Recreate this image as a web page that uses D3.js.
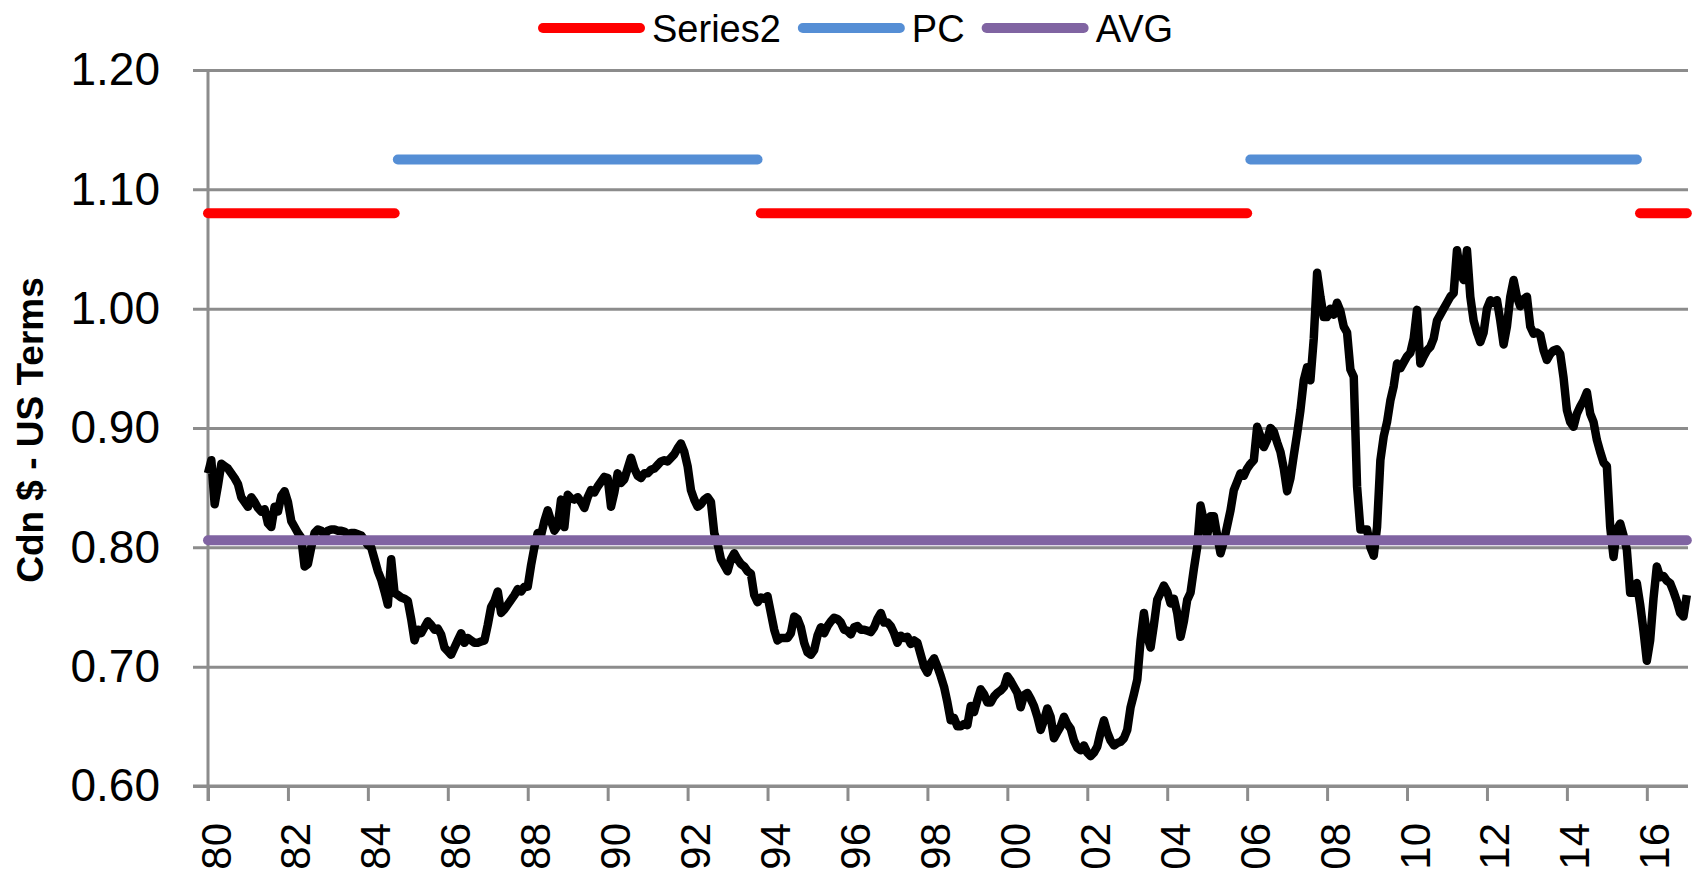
<!DOCTYPE html>
<html>
<head>
<meta charset="utf-8">
<script src="https://cdn.jsdelivr.net/npm/d3@7"></script>
<style>
  body { margin: 0; background: #fff; }
  svg { display: block; font-family: "Liberation Sans", Arial, sans-serif; }
</style>
</head>
<body>
<svg id="chart" width="1693" height="873"></svg>
<script>
// C$ in US$ terms, monthly, Jan 1980 .. Jan 2017
var startYear = 1980;
var cadUsd = [
  0.862, 0.873, 0.836, 0.852, 0.870, 0.868, 0.866, 0.862, 0.858, 0.853, 0.842, 0.838, // 1980
  0.834, 0.842, 0.838, 0.833, 0.830, 0.832, 0.820, 0.817, 0.834, 0.830, 0.843, 0.847,
  0.838, 0.822, 0.817, 0.812, 0.808, 0.784, 0.786, 0.800, 0.812, 0.815, 0.814, 0.810,
  0.814, 0.815, 0.815, 0.814, 0.814, 0.813, 0.811, 0.812, 0.812, 0.811, 0.810, 0.806,
  0.802, 0.800, 0.790, 0.780, 0.773, 0.763, 0.752, 0.790, 0.762, 0.760, 0.758, 0.757,
  0.755, 0.740, 0.722, 0.731, 0.728, 0.733, 0.738, 0.735, 0.731, 0.732, 0.727, 0.716, // 1985
  0.713, 0.710, 0.716, 0.722, 0.728, 0.720, 0.724, 0.722, 0.720, 0.720, 0.721, 0.722,
  0.735, 0.750, 0.755, 0.763, 0.745, 0.748, 0.752, 0.756, 0.760, 0.765, 0.763, 0.767,
  0.767, 0.785, 0.800, 0.812, 0.810, 0.822, 0.831, 0.822, 0.814, 0.818, 0.840, 0.817,
  0.844, 0.841, 0.840, 0.842, 0.838, 0.833, 0.842, 0.848, 0.846, 0.851, 0.855, 0.859,
  0.858, 0.834, 0.846, 0.862, 0.854, 0.857, 0.866, 0.875, 0.866, 0.860, 0.858, 0.862, // 1990
  0.862, 0.865, 0.866, 0.869, 0.872, 0.873, 0.872, 0.875, 0.878, 0.883, 0.887, 0.880,
  0.868, 0.848, 0.840, 0.834, 0.836, 0.840, 0.842, 0.838, 0.812, 0.803, 0.790, 0.785,
  0.780, 0.790, 0.795, 0.790, 0.786, 0.784, 0.780, 0.778, 0.760, 0.754, 0.758, 0.757,
  0.759, 0.745, 0.731, 0.722, 0.724, 0.724, 0.724, 0.728, 0.742, 0.740, 0.733, 0.720,
  0.712, 0.710, 0.714, 0.726, 0.733, 0.728, 0.734, 0.738, 0.741, 0.740, 0.737, 0.731, // 1995
  0.730, 0.727, 0.733, 0.734, 0.731, 0.731, 0.730, 0.729, 0.733, 0.740, 0.745, 0.737,
  0.737, 0.734, 0.728, 0.720, 0.726, 0.724, 0.725, 0.719, 0.722, 0.720, 0.710, 0.700,
  0.695, 0.703, 0.707, 0.700, 0.692, 0.683, 0.670, 0.655, 0.657, 0.650, 0.650, 0.652,
  0.651, 0.667, 0.662, 0.672, 0.681, 0.677, 0.670, 0.670, 0.675, 0.678, 0.680, 0.683,
  0.692, 0.688, 0.683, 0.678, 0.666, 0.676, 0.678, 0.673, 0.667, 0.658, 0.647, 0.655, // 2000
  0.665, 0.658, 0.640, 0.645, 0.650, 0.658, 0.652, 0.648, 0.638, 0.632, 0.630, 0.634,
  0.628, 0.625, 0.628, 0.633, 0.645, 0.655, 0.645, 0.638, 0.634, 0.636, 0.637, 0.640,
  0.647, 0.666, 0.677, 0.689, 0.722, 0.745, 0.725, 0.716, 0.735, 0.756, 0.762, 0.768,
  0.763, 0.753, 0.757, 0.745, 0.725, 0.738, 0.756, 0.762, 0.782, 0.800, 0.835, 0.822,
  0.810, 0.826, 0.826, 0.810, 0.795, 0.805, 0.818, 0.831, 0.848, 0.855, 0.862, 0.860, // 2005
  0.866, 0.870, 0.873, 0.901, 0.893, 0.884, 0.890, 0.900, 0.897, 0.888, 0.880, 0.866,
  0.847, 0.858, 0.877, 0.895, 0.915, 0.940, 0.951, 0.940, 0.975, 1.030, 1.010, 0.993,
  0.993, 1.000, 0.995, 1.005, 0.998, 0.985, 0.980, 0.949, 0.943, 0.851, 0.815, 0.815,
  0.815, 0.800, 0.793, 0.817, 0.873, 0.893, 0.905, 0.923, 0.935, 0.954, 0.950, 0.955,
  0.960, 0.963, 0.975, 0.999, 0.954, 0.960, 0.965, 0.968, 0.975, 0.990, 0.995, 1.000, // 2010
  1.005, 1.010, 1.013, 1.049, 1.030, 1.024, 1.049, 1.010, 0.990, 0.980, 0.972, 0.980,
  1.000, 1.007, 1.005, 1.007, 0.990, 0.970, 0.985, 1.010, 1.024, 1.010, 1.002, 1.008,
  1.010, 0.985, 0.979, 0.980, 0.978, 0.965, 0.957, 0.962, 0.965, 0.966, 0.962, 0.942,
  0.915, 0.905, 0.901, 0.912, 0.918, 0.923, 0.930, 0.912, 0.905, 0.890, 0.880, 0.871,
  0.868, 0.817, 0.792, 0.815, 0.820, 0.810, 0.798, 0.762, 0.762, 0.770, 0.752, 0.730, // 2015
  0.705, 0.722, 0.757, 0.784, 0.775, 0.776, 0.772, 0.770, 0.763, 0.755, 0.745, 0.742,
  0.760
];

// government periods (decimal years) and the levels they are drawn at
var series2Periods = [[1980.0, 1984.67], [1993.83, 2006.0], [2015.83, 2017.0]];
var pcPeriods = [[1984.75, 1993.75], [2006.08, 2015.75]];
var series2Level = 1.08;
var pcLevel = 1.125;
var avgLevel = 0.806;

var yTicks = [0.6, 0.7, 0.8, 0.9, 1.0, 1.1, 1.2];
var xTicks = [1980, 1982, 1984, 1986, 1988, 1990, 1992, 1994, 1996, 1998,
  2000, 2002, 2004, 2006, 2008, 2010, 2012, 2014, 2016];
var xTickLabels = ['80', '82', '84', '86', '88', '90', '92', '94', '96', '98',
  '00', '02', '04', '06', '08', '10', '12', '14', '16'];

var legendItems = [
  { name: 'Series2', color: '#ff0000' },
  { name: 'PC', color: '#558ed5' },
  { name: 'AVG', color: '#8064a2' }
];

var gridColor = '#8c8c8c';

var svg = d3.select('#chart');
var plotLeft = 208, plotRight = 1688, plotTop = 70, plotBottom = 786;

var x = d3.scaleLinear().domain([1980, 2017.03]).range([plotLeft, plotRight]);
var y = d3.scaleLinear().domain([0.6, 1.2]).range([plotBottom, plotTop]);

// y axis with gridlines
var yAxis = svg.append('g')
  .attr('transform', 'translate(' + plotLeft + ',0)')
  .call(d3.axisLeft(y).tickValues(yTicks).tickSize(-(plotRight - plotLeft)).tickPadding(48)
    .tickFormat(d3.format('.2f')));
yAxis.select('.domain').remove();
yAxis.selectAll('.tick line')
  .attr('x1', -15)
  .attr('stroke', gridColor)
  .attr('stroke-width', 3);
yAxis.selectAll('.tick text')
  .attr('font-size', 46)
  .attr('fill', '#000')
  .attr('font-family', '"Liberation Sans", Arial, sans-serif');

svg.append('line')
  .attr('x1', plotLeft).attr('x2', plotLeft)
  .attr('y1', plotTop - 1).attr('y2', plotBottom + 15)
  .attr('stroke', gridColor).attr('stroke-width', 3);

// x axis
var xAxis = svg.append('g')
  .attr('transform', 'translate(0,' + plotBottom + ')')
  .call(d3.axisBottom(x).tickValues(xTicks).tickSize(15)
    .tickFormat(function (d, i) { return xTickLabels[i]; }));
xAxis.select('.domain')
  .attr('d', 'M' + (plotLeft - 15) + ',0H' + plotRight)
  .attr('stroke', gridColor).attr('stroke-width', 3);
xAxis.selectAll('.tick line').attr('stroke', gridColor).attr('stroke-width', 3);
xAxis.selectAll('.tick text')
  .attr('font-size', 42)
  .attr('fill', '#000')
  .attr('font-family', '"Liberation Sans", Arial, sans-serif')
  .attr('text-anchor', 'end')
  .attr('dy', null)
  .attr('y', 0)
  .attr('transform', 'translate(22,37) rotate(-90)');

// y axis title
svg.append('text')
  .attr('transform', 'translate(43,430) rotate(-90)')
  .attr('text-anchor', 'middle')
  .attr('font-size', 37)
  .attr('font-weight', 'bold')
  .text('Cdn $ - US Terms');

// exchange rate line
var line = d3.line()
  .x(function (d, i) { return x(startYear + i / 12); })
  .y(function (d) { return y(d); });

svg.append('path')
  .datum(cadUsd)
  .attr('fill', 'none')
  .attr('stroke', '#000')
  .attr('stroke-width', 8.5)
  .attr('stroke-linejoin', 'round')
  .attr('d', line);

// party bands
function drawPeriods(periods, level, color) {
  svg.append('g').selectAll('line')
    .data(periods)
    .enter().append('line')
    .attr('x1', function (d) { return x(d[0]); })
    .attr('x2', function (d) { return x(d[1]); })
    .attr('y1', y(level))
    .attr('y2', y(level))
    .attr('stroke', color)
    .attr('stroke-width', 10)
    .attr('stroke-linecap', 'round');
}
drawPeriods(series2Periods, series2Level, legendItems[0].color);
drawPeriods(pcPeriods, pcLevel, legendItems[1].color);
drawPeriods([[1980, 2017.0]], avgLevel, legendItems[2].color);

// legend
var legend = svg.append('g');
var lx = 543;
legendItems.forEach(function (item) {
  legend.append('line')
    .attr('x1', lx).attr('x2', lx + 97)
    .attr('y1', 28).attr('y2', 28)
    .attr('stroke', item.color)
    .attr('stroke-width', 10)
    .attr('stroke-linecap', 'round');
  var t = legend.append('text')
    .attr('x', lx + 109)
    .attr('y', 42)
    .attr('font-size', 38)
    .text(item.name);
  lx = lx + 109 + t.node().getComputedTextLength() + 22;
});
</script>
</body>
</html>
